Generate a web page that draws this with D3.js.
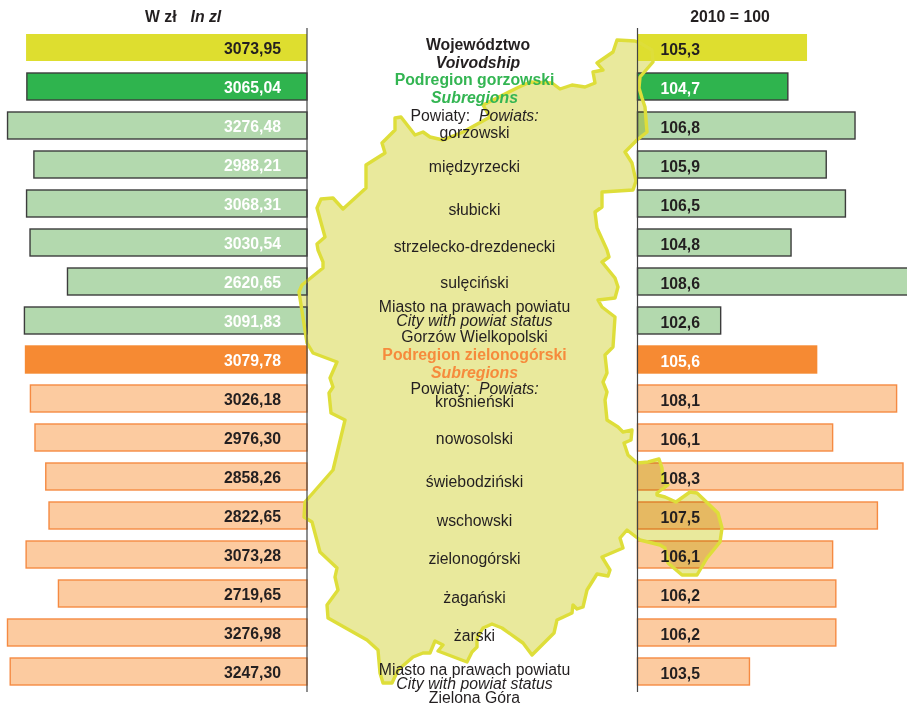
<!DOCTYPE html>
<html lang="pl">
<head>
<meta charset="utf-8">
<title>Wynagrodzenia</title>
<script src="https://cdn.jsdelivr.net/npm/d3@7"></script>
<style>
    html, body { margin: 0; padding: 0; background: #fff; }
    svg { display: block; font-family: "Liberation Sans", Arial, sans-serif; }
    .mapFill { mix-blend-mode: multiply; }
</style>
</head>
<body>
<div id="chart"></div>
<script>
// Row categories, top to bottom
const regions = ["Województwo", "Podregion gorzowski", "gorzowski", "międzyrzecki", "słubicki",
    "strzelecko-drezdenecki", "sulęciński", "Gorzów Wielkopolski", "Podregion zielonogórski",
    "krośnieński", "nowosolski", "świebodziński", "wschowski", "zielonogórski", "żagański",
    "żarski", "Zielona Góra"];
const wages = [3073.95, 3065.04, 3276.48, 2988.21, 3068.31, 3030.54, 2620.65, 3091.83, 3079.78,
    3026.18, 2976.30, 2858.26, 2822.65, 3073.28, 2719.65, 3276.98, 3247.30];
const indexes = [105.3, 104.7, 106.8, 105.9, 106.5, 104.8, 108.6, 102.6, 105.6,
    108.1, 106.1, 108.3, 107.5, 106.1, 106.2, 106.2, 103.5];
const rowKinds = ["voivodship", "subGreen", "green", "green", "green", "green", "green", "green", "subOrange",
    "orange", "orange", "orange", "orange", "orange", "orange", "orange", "orange"];

// Outline of the voivodship
const mapOutline = [[617, 40], [635, 41], [640, 43], [652, 50], [653, 62], [640, 77], [639, 88], [642, 98], [645, 107],
    [647, 132], [637, 140], [625, 152], [632, 163], [636, 181], [633, 190], [602, 192], [602, 207], [595, 212], [597, 228],
    [607, 250], [609, 257], [602, 262], [615, 278], [618, 287], [615, 298], [598, 300], [602, 307], [615, 317], [613, 347],
    [605, 355], [607, 373], [603, 382], [607, 392], [605, 400], [607, 420], [618, 427], [623, 432], [632, 430], [631, 440],
    [624, 443], [628, 455], [637, 463], [648, 462], [659, 459], [662, 468], [663, 482], [668, 485], [657, 493], [657, 495],
    [665, 497], [676, 502], [690, 492], [697, 493], [718, 513], [722, 528], [720, 542], [707, 558], [697, 575], [682, 575],
    [668, 563], [665, 548], [660, 545], [640, 540], [627, 530], [620, 538], [623, 548], [602, 557], [610, 570], [608, 576],
    [597, 574], [587, 590], [583, 607], [577, 609], [573, 605], [572, 613], [557, 620], [554, 633], [532, 655], [523, 643],
    [502, 628], [492, 624], [483, 628], [477, 638], [477, 647], [472, 652], [467, 662], [438, 651], [443, 645], [435, 641],
    [430, 653], [423, 653], [413, 657], [398, 670], [392, 683], [383, 683], [380, 673], [378, 650], [367, 640], [328, 618],
    [327, 605], [338, 590], [335, 577], [337, 568], [320, 552], [312, 522], [304, 517], [305, 502], [333, 470], [345, 420],
    [331, 413], [329, 393], [333, 387], [330, 378], [337, 362], [313, 353], [307, 343], [299, 292], [302, 285], [323, 268],
    [323, 262], [318, 250], [317, 244], [325, 237], [317, 208], [321, 199], [333, 198], [343, 209], [366, 188], [366, 165],
    [385, 153], [382, 143], [395, 130], [395, 118], [401, 117], [415, 135], [423, 132], [430, 137], [443, 140], [463, 132],
    [490, 117], [483, 105], [517, 88], [530, 82], [552, 83], [560, 89], [572, 85], [585, 87], [595, 83], [593, 72],
    [603, 70], [597, 63], [613, 52]];

// Middle column labels
const centreLabels = [
    { text: "Województwo", weight: "bold", color: "dark", at: 478 },
    { text: "Voivodship", weight: "bold", italic: true, color: "dark", at: 478 },
    { text: "Podregion gorzowski", weight: "bold", color: "green" },
    { text: "Subregions", weight: "bold", italic: true, color: "green" },
    { text: "Powiaty:\u00a0\u00a0", second: "Powiats:", color: "dark" },
    { text: "gorzowski", color: "dark" },
    { text: "międzyrzecki", color: "dark" },
    { text: "słubicki", color: "dark" },
    { text: "strzelecko-drezdenecki", color: "dark" },
    { text: "sulęciński", color: "dark" },
    { text: "Miasto na prawach powiatu", color: "dark" },
    { text: "City with powiat status", italic: true, color: "dark" },
    { text: "Gorzów Wielkopolski", color: "dark" },
    { text: "Podregion zielonogórski", weight: "bold", color: "orange" },
    { text: "Subregions", weight: "bold", italic: true, color: "orange" },
    { text: "Powiaty:\u00a0\u00a0", second: "Powiats:", color: "dark" },
    { text: "krośnieński", color: "dark" },
    { text: "nowosolski", color: "dark" },
    { text: "świebodziński", color: "dark" },
    { text: "wschowski", color: "dark" },
    { text: "zielonogórski", color: "dark" },
    { text: "żagański", color: "dark" },
    { text: "żarski", color: "dark" },
    { text: "Miasto na prawach powiatu", color: "dark" },
    { text: "City with powiat status", italic: true, color: "dark" },
    { text: "Zielona Góra", color: "dark" }
];
const centreBaselines = [50, 68, 85, 103, 121, 138, 172, 215, 252, 288, 312, 326, 342, 360, 378, 394, 407,
    444, 487, 526, 564, 603, 641, 675, 689, 703];

const width = 907;
const height = 705;
const leftAxisX = 307;
const rightAxisX = 637.5;
const fontSize = 15.8;

const textColors = { dark: "#231f20", green: "#33b552", orange: "#f68b3c" };
const fills = { voivodship: "#dede2f", subGreen: "#2fb44e", green: "#b3d9ae", subOrange: "#f68a33", orange: "#fccba0" };
const strokes = { voivodship: "none", subGreen: "#3c3c3c", green: "#3c3c3c", subOrange: "#f68a33", orange: "#f58a42" };

const svg = d3.select("#chart").append("svg")
    .attr("width", width)
    .attr("height", height);

// One band per row, 39px step
const y = d3.scaleBand()
    .domain(regions)
    .range([34, 685])
    .paddingInner(12 / 39);

// Wages grow to the left from zero
const xWage = d3.scaleLinear()
    .domain([0, 3276.98])
    .range([leftAxisX, 7.5]);

// Indexes grow to the right from 100
const xIndex = d3.scaleLinear()
    .domain([100, 108.3])
    .range([rightAxisX, 903]);

const rows = regions.map((name, i) => ({ name, wage: wages[i], index: indexes[i], kind: rowKinds[i] }));
const strongKinds = ["voivodship", "subGreen", "subOrange"];

function drawRightBars(data) {
    svg.append("g").selectAll("rect")
        .data(data)
        .join("rect")
        .attr("x", rightAxisX)
        .attr("y", d => y(d.name))
        .attr("width", d => xIndex(d.index) - rightAxisX)
        .attr("height", y.bandwidth())
        .attr("fill", d => fills[d.kind])
        .attr("stroke", d => strokes[d.kind])
        .attr("stroke-width", 1.4);
}

// Pale right bars show through the map, strong ones stay on top
drawRightBars(rows.filter(d => !strongKinds.includes(d.kind)));

svg.append("path")
    .attr("class", "mapFill")
    .attr("d", d3.line().curve(d3.curveLinearClosed)(mapOutline))
    .attr("fill", "#e9e99c");

drawRightBars(rows.filter(d => strongKinds.includes(d.kind)));

// Left bars cover the map
svg.append("g").selectAll("rect")
    .data(rows)
    .join("rect")
    .attr("x", d => xWage(d.wage))
    .attr("y", d => y(d.name))
    .attr("width", d => leftAxisX - xWage(d.wage))
    .attr("height", y.bandwidth())
    .attr("fill", d => fills[d.kind])
    .attr("stroke", d => strokes[d.kind])
    .attr("stroke-width", 1.4);

// Map outline goes over all the bars
svg.append("path")
    .attr("d", d3.line().curve(d3.curveLinearClosed)(mapOutline))
    .attr("fill", "none")
    .attr("stroke", "#dede3a")
    .attr("stroke-width", 3.4)
    .attr("stroke-linejoin", "round");

// Vertical axis lines
svg.append("g").selectAll("line")
    .data([leftAxisX, rightAxisX])
    .join("line")
    .attr("x1", d => d)
    .attr("x2", d => d)
    .attr("y1", 28)
    .attr("y2", 692)
    .attr("stroke", "#444")
    .attr("stroke-width", 1.2);

// Value labels
svg.append("g").selectAll("text")
    .data(rows)
    .join("text")
    .attr("x", 281)
    .attr("y", d => y(d.name) + y.bandwidth() / 2 + 6)
    .attr("text-anchor", "end")
    .attr("font-size", fontSize)
    .attr("font-weight", "bold")
    .attr("fill", d => ["subGreen", "green", "subOrange"].includes(d.kind) ? "#fff" : textColors.dark)
    .text(d => d3.format(".2f")(d.wage).replace(".", ","));

svg.append("g").selectAll("text")
    .data(rows)
    .join("text")
    .attr("x", 660.5)
    .attr("y", d => y(d.name) + y.bandwidth() / 2 + 7.5)
    .attr("font-size", fontSize)
    .attr("font-weight", "bold")
    .attr("fill", d => ["subGreen", "subOrange"].includes(d.kind) ? "#fff" : textColors.dark)
    .text(d => d3.format(".1f")(d.index).replace(".", ","));

// Column headers
const headLeft = svg.append("text")
    .attr("x", 145)
    .attr("y", 22)
    .attr("font-size", fontSize)
    .attr("font-weight", "bold")
    .attr("fill", textColors.dark);
headLeft.append("tspan").text("W zł");
headLeft.append("tspan").attr("x", 190.5).attr("font-style", "italic").text("In zl");

svg.append("text")
    .attr("x", 730)
    .attr("y", 22)
    .attr("text-anchor", "middle")
    .attr("font-size", fontSize)
    .attr("font-weight", "bold")
    .attr("fill", textColors.dark)
    .text("2010 = 100");

// Middle column
const centre = svg.append("g").selectAll("text")
    .data(centreLabels)
    .join("text")
    .attr("x", d => d.at || 474.5)
    .attr("y", (d, i) => centreBaselines[i])
    .attr("text-anchor", "middle")
    .attr("font-size", fontSize)
    .attr("font-weight", d => d.weight || "normal")
    .attr("font-style", d => d.italic ? "italic" : "normal")
    .attr("fill", d => textColors[d.color]);

centre.append("tspan").text(d => d.text);
centre.filter(d => d.second)
    .append("tspan")
    .attr("font-style", "italic")
    .text(d => d.second);
</script>
</body>
</html>
